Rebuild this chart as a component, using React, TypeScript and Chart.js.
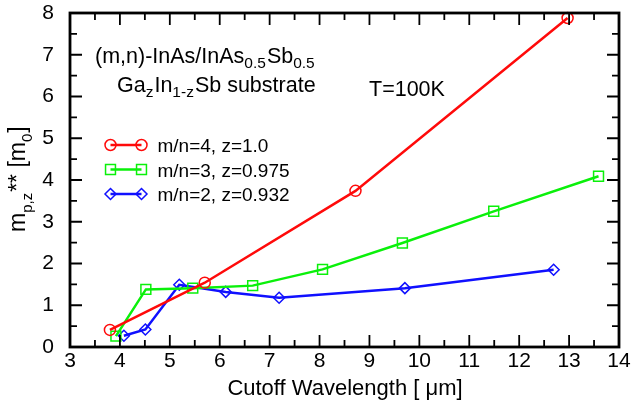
import React, { useEffect, useRef } from 'react';
import { Chart, registerables } from 'chart.js';
Chart.register(...registerables);

const xMin = 3, xMax = 14, yMin = 0, yMax = 8;

const redX = [3.8, 5.7, 8.72, 12.97];
const redY = [0.41, 1.54, 3.74, 7.88];
const greenX = [3.92, 4.52, 5.46, 6.66, 8.06, 9.66, 11.49, 13.59];
const greenY = [0.26, 1.38, 1.41, 1.47, 1.86, 2.49, 3.25, 4.09];
const blueX = [4.08, 4.51, 5.19, 6.12, 7.19, 9.71, 12.69];
const blueY = [0.27, 0.42, 1.49, 1.32, 1.18, 1.41, 1.85];

const seriesLabels = ['m/n=4, z=1.0', 'm/n=3, z=0.975', 'm/n=2, z=0.932'];
const seriesColors = ['#ff0a0a', '#0af00a', '#1010ff'];
const seriesMarkers = ['circle', 'rect', 'rectRot'];
const seriesRadii = [5.5, 7, 5.5];

const FONT = "'Liberation Sans', Arial, sans-serif";

type Part = { t: string; k: 'n' | 's' };

function drawRich(ctx: CanvasRenderingContext2D, x: number, y: number, parts: Part[], main: number, sub: number, subOff: number) {
  let cx = x;
  for (const p of parts) {
    const size = p.k === 'n' ? main : sub;
    ctx.font = `${size}px ${FONT}`;
    const dy = p.k === 's' ? subOff : 0;
    ctx.fillText(p.t, cx, y + dy);
    cx += ctx.measureText(p.t).width + (p.k === 's' ? 1 : 0);
  }
}

function drawMarker(ctx: CanvasRenderingContext2D, style: string, x: number, y: number, r: number) {
  ctx.beginPath();
  if (style === 'circle') {
    ctx.arc(x, y, r, 0, Math.PI * 2);
  } else if (style === 'rect') {
    const s = Math.SQRT1_2 * r;
    ctx.rect(x - s, y - s, 2 * s, 2 * s);
  } else {
    ctx.moveTo(x, y - r);
    ctx.lineTo(x + r, y);
    ctx.lineTo(x, y + r);
    ctx.lineTo(x - r, y);
    ctx.closePath();
  }
  ctx.stroke();
}

const decor = {
  id: 'decor',
  afterDraw(chart: any) {
    const { ctx, chartArea: a, scales } = chart;
    const xs = scales.x, ys = scales.y;
    ctx.save();
    ctx.strokeStyle = '#000';
    ctx.lineWidth = 1.8;
    ctx.beginPath();
    for (let i = 0; i <= (xMax - xMin) * 2; i++) {
      const v = xMin + i * 0.5;
      const p = xs.getPixelForValue(v);
      const len = i % 2 === 0 ? 12 : 7;
      ctx.moveTo(p, a.bottom); ctx.lineTo(p, a.bottom - len);
      ctx.moveTo(p, a.top); ctx.lineTo(p, a.top + len);
    }
    for (let i = 0; i <= (yMax - yMin) * 2; i++) {
      const v = yMin + i * 0.5;
      const p = ys.getPixelForValue(v);
      const len = i % 2 === 0 ? 12 : 7;
      ctx.moveTo(a.left, p); ctx.lineTo(a.left + len, p);
      ctx.moveTo(a.right, p); ctx.lineTo(a.right - len, p);
    }
    ctx.stroke();
    ctx.lineWidth = 2.8;
    ctx.strokeRect(a.left, a.top, a.right - a.left, a.bottom - a.top);

    ctx.fillStyle = '#000';
    ctx.textBaseline = 'alphabetic';
    ctx.textAlign = 'left';
    drawRich(ctx, 95, 63, [
      { t: '(m,n)-InAs/InAs', k: 'n' }, { t: '0.5', k: 's' },
      { t: 'Sb', k: 'n' }, { t: '0.5', k: 's' },
    ], 21.5, 15.5, 5);
    drawRich(ctx, 117, 92, [
      { t: 'Ga', k: 'n' }, { t: 'z', k: 's' },
      { t: 'In', k: 'n' }, { t: '1-z', k: 's' },
      { t: 'Sb substrate', k: 'n' },
    ], 21.5, 15.5, 5);
    drawRich(ctx, 369, 96, [{ t: 'T=100K', k: 'n' }], 21.5, 15, 5);

    // legend
    const baselines = [152, 176.5, 201];
    for (let i = 0; i < 3; i++) {
      const yy = baselines[i] - 7;
      ctx.strokeStyle = seriesColors[i];
      ctx.lineWidth = 2.5;
      ctx.beginPath();
      ctx.moveTo(110.5, yy); ctx.lineTo(141.5, yy);
      ctx.stroke();
      ctx.lineWidth = 1.5;
      drawMarker(ctx, seriesMarkers[i], 110.5, yy, seriesRadii[i]);
      drawMarker(ctx, seriesMarkers[i], 141.5, yy, seriesRadii[i]);
      ctx.fillStyle = '#000';
      ctx.font = `19px ${FONT}`;
      ctx.fillText(seriesLabels[i], 157.5, baselines[i]);
    }

    // y title
    ctx.save();
    ctx.translate(25, 232);
    ctx.rotate(-Math.PI / 2);
    drawRich(ctx, 0, 0, [
      { t: 'm', k: 'n' }, { t: 'p,z', k: 's' }, { t: '**', k: 'n' },
      { t: ' [m', k: 'n' }, { t: '0', k: 's' }, { t: ']', k: 'n' },
    ], 23, 15, 7);
    ctx.restore();

    // x title
    ctx.font = `22px ${FONT}`;
    ctx.textAlign = 'center';
    ctx.fillText('Cutoff Wavelength [ \u03bcm]', 345, 395);
    ctx.restore();
  },
};

function mk(xsArr: number[], ysArr: number[], i: number) {
  return {
    label: seriesLabels[i],
    data: xsArr.map((x, j) => ({ x, y: ysArr[j] })),
    showLine: true,
    borderColor: seriesColors[i],
    backgroundColor: 'rgba(0,0,0,0)',
    borderWidth: 2.5,
    pointStyle: seriesMarkers[i],
    pointRadius: seriesRadii[i],
    pointBorderWidth: 1.5,
    pointBorderColor: seriesColors[i],
    pointBackgroundColor: 'rgba(0,0,0,0)',
    clip: false,
    tension: 0,
  };
}

export default function App() {
  const ref = useRef<HTMLCanvasElement>(null);
  useEffect(() => {
    if (!ref.current) return;
    const chart = new Chart(ref.current, {
      type: 'scatter',
      data: {
        datasets: [mk(redX, redY, 0), mk(greenX, greenY, 1), mk(blueX, blueY, 2)],
      },
      plugins: [decor],
      options: {
        responsive: false,
        animation: false,
        devicePixelRatio: 1,
        layout: { padding: { top: 13, right: 13, left: 0, bottom: 0 } },
        plugins: { legend: { display: false }, tooltip: { enabled: false } },
        scales: {
          x: {
            type: 'linear', min: xMin, max: xMax,
            grid: { display: false }, border: { display: false },
            ticks: { stepSize: 1, color: '#000', font: { family: FONT, size: 21 }, padding: -6 },
            afterFit: (s: any) => { s.height = 55; s.paddingLeft = 0; s.paddingRight = 0; },
          },
          y: {
            type: 'linear', min: yMin, max: yMax,
            grid: { display: false }, border: { display: false },
            ticks: { stepSize: 1, color: '#000', font: { family: FONT, size: 21 }, padding: 8 },
            afterFit: (s: any) => { s.width = 70; s.paddingTop = 0; s.paddingBottom = 0; },
          },
        },
      } as any,
    });
    return () => chart.destroy();
  }, []);
  return (
    <div style={{ position: 'absolute', left: 0, top: 0, width: 632, height: 402, background: '#fff' }}>
      <canvas ref={ref} width={632} height={402} style={{ display: 'block' }} />
    </div>
  );
}
